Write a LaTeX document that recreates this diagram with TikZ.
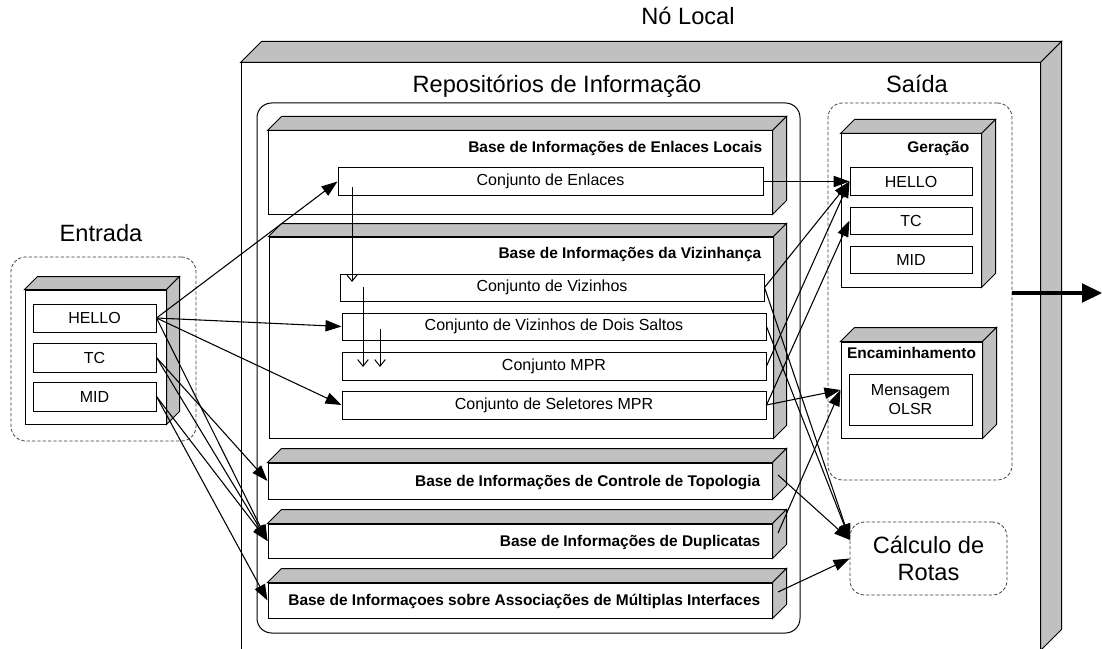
\documentclass[tikz,border=0pt]{standalone}
\usepackage{fontspec}
\setmainfont{Liberation Sans}
\usetikzlibrary{arrows.meta,fit}
\definecolor{sidegray}{HTML}{C0C0C0}
\definecolor{dashgray}{HTML}{404040}
\newcommand\boxfaces[2]{%
  \filldraw[face] (#1.north west) -- ++(#2,-#2) -- ([shift={(#2,-#2)}]#1.north east) -- (#1.north east) -- cycle;
  \filldraw[face] (#1.north east) -- ++(#2,-#2) -- ([shift={(#2,-#2)}]#1.south east) -- (#1.south east) -- cycle;}
\begin{document}
\begin{tikzpicture}[x=0.75pt,y=-0.75pt,
  front/.style={draw, fill=white, inner sep=0pt, line width=0.75pt},
  face/.style={fill=sidegray, draw=black, line width=0.75pt, line join=miter},
  small/.style={font=\fontsize{12}{14.3}\selectfont},
  boldt/.style={font=\fontsize{11.6}{14}\selectfont\bfseries},
  big/.style={font=\fontsize{17.7}{20.3}\selectfont},
  dashbox/.style={draw=dashgray, dash pattern=on 2.5pt off 1.5pt, line width=0.6pt, rounded corners=11pt, inner sep=0pt},
  conn/.style={-{Triangle[length=12pt,width=8.5pt]}, line width=0.8pt},
  innerarr/.style={-{Straight Barb[length=5pt,width=8pt]}, line width=0.75pt},
  outarr/.style={-{Triangle[length=15pt,width=14pt]}, line width=2.6pt},
]
\useasboundingbox (0,0) rectangle (1102,649);

% Nó Local
\node[front, fit={(241,63)(1040,650)}] (no) {};
\boxfaces{no}{21}
\node[big, anchor=base] (nolabel) at (688,25) {Nó Local};

% Repositorios
\node[fit={(257,103)(800,633)}, draw, rounded corners=11pt, inner sep=0pt, line width=0.75pt] (repo) {};
\node[big, anchor=base] (repolabel) at (557,93) {Repositórios de Informação};

% Saida
\node[dashbox, fit={(828,103)(1012,480)}] (saida) {};
\node[big, anchor=base] (saidalabel) at (917,93) {Saída};

% Entrada
\node[dashbox, fit={(11,257)(196,441)}] (entrada) {};
\node[big, anchor=base] (entlabel) at (101,241) {Entrada};
\node[front, fit={(25,290)(166,424)}] (inbox) {};
\boxfaces{inbox}{13}
\node[front, fit={(33,304)(156,332)}, label={[small]center:HELLO}] (hin) {};
\node[front, fit={(33,343)(156,372)}, label={[small]center:TC}] (tcin) {};
\node[front, fit={(33,382)(156,411)}, label={[small]center:MID}] (midin) {};

% Base de Enlaces Locais
\node[front, fit={(268,131)(772,214)}] (bel) {};
\boxfaces{bel}{14}
\node[boldt, anchor=base east] (belt) at (767,152) {Base de Informações de Enlaces Locais};
\node[front, fit={(338,168)(763,195)}, label={[small]center:Conjunto de Enlaces}] (enl) {};

% Base da Vizinhanca
\node[front, fit={(269,237)(773,438)}] (bviz) {};
\boxfaces{bviz}{13}
\node[boldt, anchor=base east] (bvizt) at (766,258) {Base de Informações da Vizinhança};
\node[front, fit={(340,274)(764,301)}, label={[small]center:Conjunto de Vizinhos}] (viz) {};
\node[front, fit={(342,313)(766,340)}, label={[small]center:Conjunto de Vizinhos de Dois Saltos}] (dois) {};
\node[front, fit={(342,352)(766,380)}, label={[small]center:Conjunto MPR}] (mpr) {};
\node[front, fit={(342,391)(766,419)}, label={[small]center:Conjunto de Seletores MPR}] (sel) {};

% Bottom bases
\node[front, fit={(268,463)(772,499)}] (topo) {};
\boxfaces{topo}{14}
\node[boldt, anchor=base east] (topot) at (765,486) {Base de Informações de Controle de Topologia};
\node[front, fit={(268,524)(772,558)}] (dup) {};
\boxfaces{dup}{14}
\node[boldt, anchor=base east] (dupt) at (765,546) {Base de Informações de Duplicatas};
\node[front, fit={(268,583)(772,618)}] (mult) {};
\boxfaces{mult}{14}
\node[boldt, anchor=base east] (multt) at (765,605) {Base de Informaçoes sobre Associações de Múltiplas Interfaces};

% Geracao
\node[front, fit={(841,134)(981,287)}] (ger) {};
\boxfaces{ger}{14}
\node[boldt, anchor=base east] (gert) at (974,152) {Geração};
\node[front, fit={(850,168)(972,195)}, label={[small]center:HELLO}] (hout) {};
\node[front, fit={(850,207)(972,234)}, label={[small]center:TC}] (tcout) {};
\node[front, fit={(850,246)(972,273)}, label={[small]center:MID}] (midout) {};

% Encaminhamento
\node[front, fit={(841,342)(982,438)}] (enc) {};
\boxfaces{enc}{14}
\node[boldt, anchor=base] (enct) at (911.5,358) {Encaminhamento};
\node[front, fit={(849,374)(972,425)}] (msg) {};
\node[small, align=center] (msgt) at (msg.center) {Mensagem\\OLSR};

% Calculo de Rotas
\node[dashbox, fit={(850,522)(1007,595)}] (calc) {};
\node[big, align=center] (calct) at (calc.center) {Cálculo de\\Rotas};

% helper coordinates
\coordinate (enlin) at (352,187);
\coordinate (vizin) at (352,282);
\coordinate (vizs) at (363,287);
\coordinate (mprin1) at (363,367);
\coordinate (doiss) at (380,329);
\coordinate (mprin2) at (380,367);
\coordinate (topos) at (778,475);
\coordinate (dups) at (778,533);
\coordinate (mults) at (778,592);
\coordinate (calcA) at (850,540);
\coordinate (outs) at (1012,293);
\coordinate (oute) at (1102,293);

% internal arrows
\draw[innerarr] (enlin) -- (vizin);
\draw[innerarr] (vizs) -- (mprin1);
\draw[innerarr] (doiss) -- (mprin2);

% input connectors
\draw[conn] (hin.east) -- (enl.west);
\draw[conn] (hin.east) -- (dois.west);
\draw[conn] (hin.east) -- (sel.west);
\draw[conn] (hin.east) -- (dup.west);
\draw[conn] (tcin.east) -- (topo.west);
\draw[conn] (tcin.east) -- (dup.west);
\draw[conn] (midin.east) -- (dup.west);
\draw[conn] (midin.east) -- (mult.west);

% output connectors
\draw[conn] (enl.east) -- (hout.west);
\draw[conn] (viz.east) -- (hout.west);
\draw[conn] (mpr.east) -- (hout.west);
\draw[conn] (sel.east) -- (tcout.west);
\draw[conn] (sel.east) -- (enc.west);
\draw[conn] (dups) -- (enc.west);
\draw[conn] (viz.east) -- (calcA);
\draw[conn] (dois.east) -- (calcA);
\draw[conn] (topos) -- (calcA);
\draw[conn] (mults) -- (calc.west);

\draw[outarr] (outs) -- (oute);
\end{tikzpicture}
\end{document}
